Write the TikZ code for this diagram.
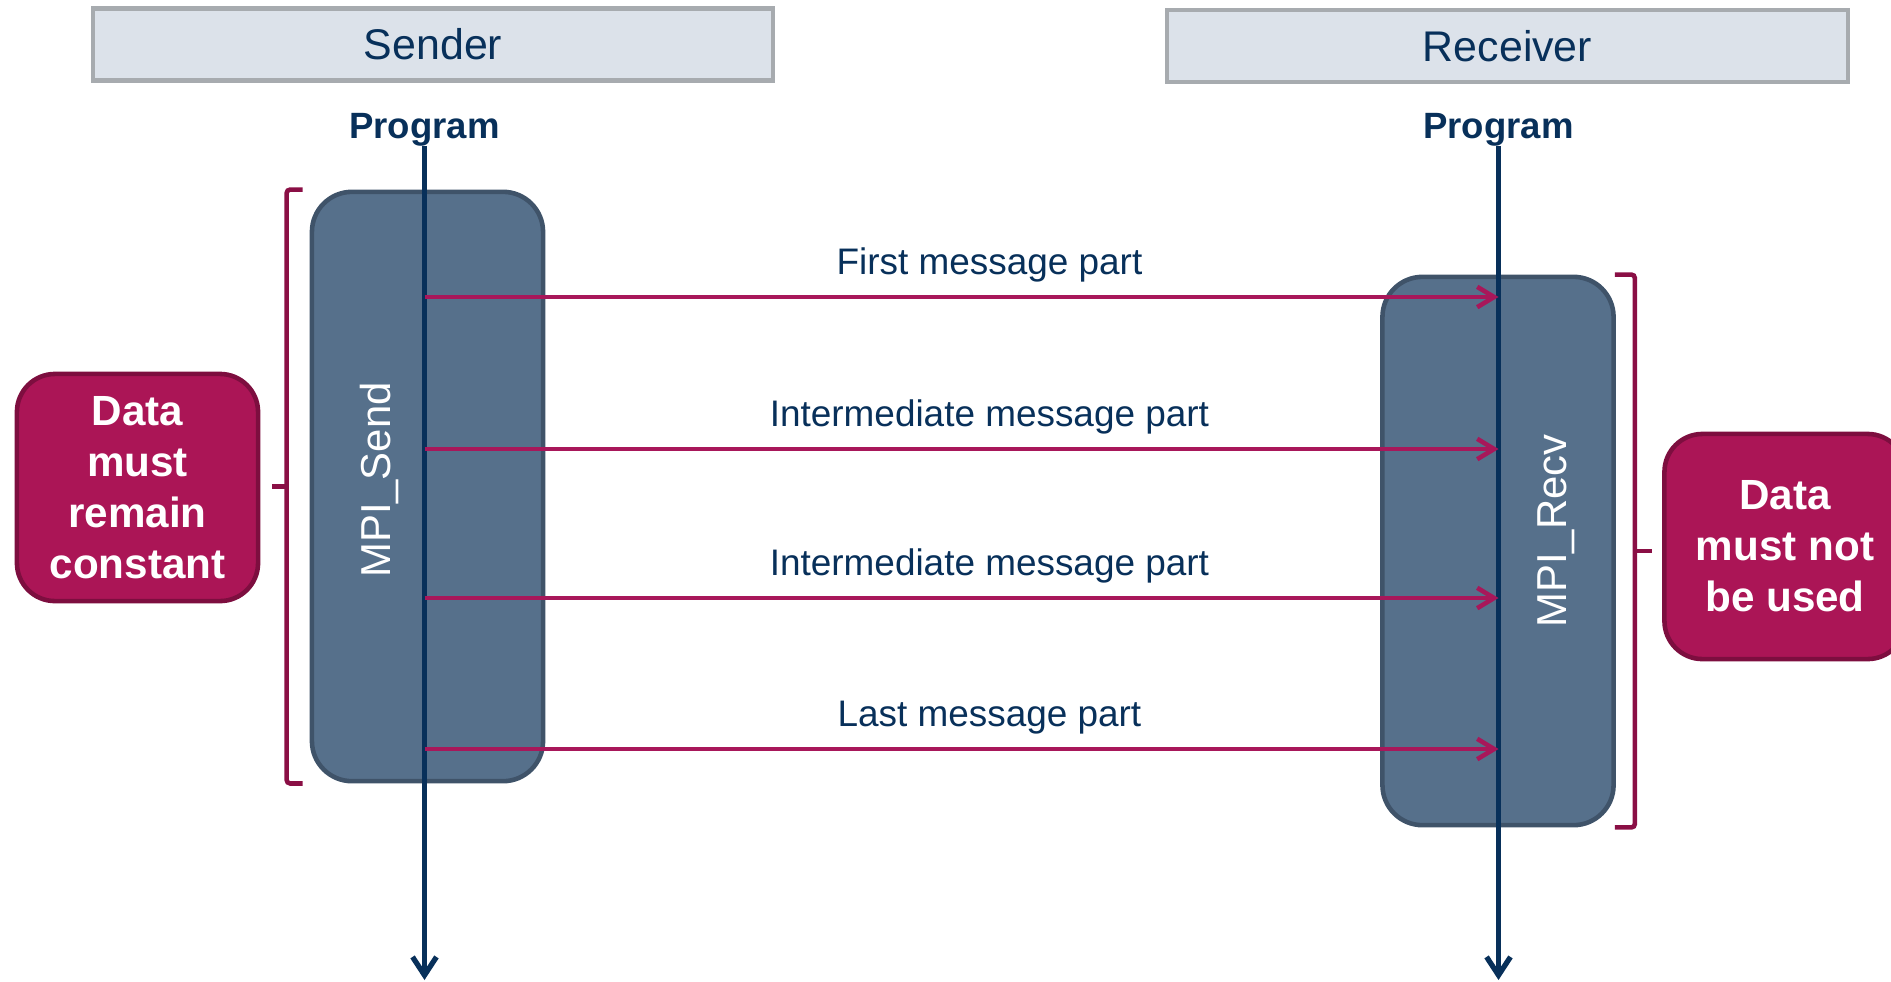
\documentclass[tikz,border=0pt]{standalone}
\usepackage{fontspec}
\setmainfont{Liberation Sans}
\usepackage{tikz}
\usetikzlibrary{arrows.meta,calc,positioning}
\definecolor{navy}{HTML}{08305A}
\definecolor{hdrfill}{HTML}{DCE2EA}
\definecolor{hdrline}{HTML}{A7ABAF}
\definecolor{actfill}{HTML}{56708B}
\definecolor{actline}{HTML}{3F5369}
\definecolor{msgred}{HTML}{A8175A}
\definecolor{bracered}{HTML}{8A0F45}
\definecolor{notefill}{HTML}{AB1556}
\definecolor{noteline}{HTML}{7D0E3F}
\tikzset{
hdr/.style={draw=hdrline, fill=hdrfill, line width=1.2pt, minimum width=6.8cm, minimum height=0.72cm, inner sep=0, text=navy, font=\fontsize{12.2}{14}\selectfont},
prog/.style={anchor=base, inner sep=0, text=navy, font=\fontsize{10.4}{12}\selectfont\bfseries},
act/.style={draw=actline, fill=actfill, line width=1.3pt, rounded corners=0.4cm, minimum width=2.31cm},
acttext/.style={rotate=90, text=white, inner sep=0, font=\fontsize{11.9}{14}\selectfont},
note/.style={draw=noteline, fill=notefill, line width=1.3pt, rounded corners=0.38cm, minimum width=2.41cm, text=white, align=center, font=\fontsize{12}{14.5}\selectfont\bfseries},
life/.style={draw=navy, line width=1.5pt, -{Straight Barb[length=5.2pt,width=6.8pt]}},
msg/.style={draw=msgred, line width=1.3pt, -{Straight Barb[length=4.8pt,width=5.8pt]}},
msglabel/.style={anchor=base, yshift=6.5pt, inner sep=0, text=navy, font=\fontsize{10.5}{12}\selectfont},
brace/.style={draw=bracered, line width=1.3pt, rounded corners=1pt}
}
\begin{document}
\begin{tikzpicture}[x=0.01cm, y=-0.01cm]
\useasboundingbox (0,0) rectangle (1891,981);
\node[hdr] (sendhdr) at (433,44.5) {Sender};
\node[hdr] (recvhdr) at (1507.5,46) {Receiver};
\node[prog] (sendprog) at (424.5,138) {Program};
\node[prog] (recvprog) at (1498.5,138) {Program};
\node[act, minimum height=5.89cm] (sendbox) at (427.5,486.5) {};
\node[act, minimum height=5.48cm] (recvbox) at (1498,551) {};
\node[acttext] (sendname) at (379,480) {MPI\_Send};
\node[acttext] (recvname) at (1556,531) {MPI\_Recv};
\node[note, minimum height=2.27cm] (constnote) at (137.5,487.5) {Data\\must\\remain\\constant};
\node[note, minimum height=2.25cm] (unusednote) at (1785,546.5) {Data\\must not\\be used};
\coordinate (sendend) at (424.5,980);
\coordinate (recvend) at (1498.5,980);
\draw[life] (sendprog.south) -- (sendend);
\draw[life] (recvprog.south) -- (recvend);
\foreach \y/\txt in {297/First message part, 449/Intermediate message part, 598/Intermediate message part, 749/Last message part}
  \draw[msg] (sendprog |- 0,\y) -- node[msglabel, pos=.526] {\txt} (recvprog |- 0,\y);
\draw[brace] ($(sendbox.north west)+(-7,0)$) -- ++(-16,0) -- ($(sendbox.south west)+(-23,0)$) -- ++(16,0);
\draw[brace] ($(sendbox.west)+(-23,0)$) -- ++(-15,0);
\draw[brace] ($(recvbox.north east)+(-1,0)$) -- ++(20,0) -- ($(recvbox.south east)+(19,0)$) -- ++(-20,0);
\draw[brace] ($(recvbox.east)+(19,0)$) -- ++(17,0);
\end{tikzpicture}
\end{document}
